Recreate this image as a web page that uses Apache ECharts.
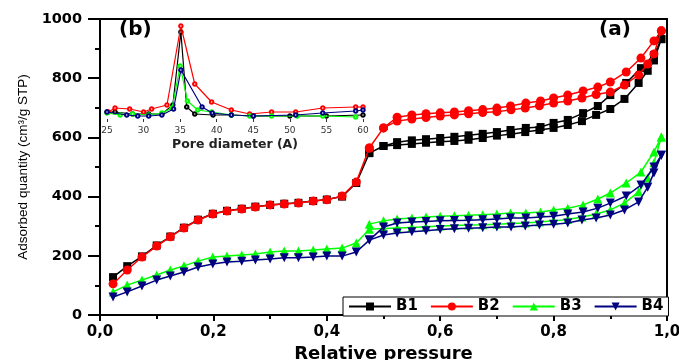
<!DOCTYPE html>
<html>
<head>
<meta charset="utf-8">
<script src="https://cdn.jsdelivr.net/npm/echarts@6/dist/echarts.min.js"></script>
<style>
  html, body { margin: 0; padding: 0; background: #fff; }
  #chart { width: 679px; height: 360px; }
</style>
</head>
<body>
<div id="chart"></div>
<script>
// relative pressure of the adsorption (lower) and desorption (upper) branches
const adsP = [0.023, 0.048, 0.074, 0.10, 0.124, 0.148, 0.173, 0.199, 0.224, 0.25,
  0.274, 0.30, 0.325, 0.35, 0.376, 0.40, 0.427, 0.452, 0.475, 0.50,
  0.524, 0.55, 0.575, 0.60, 0.625, 0.65, 0.675, 0.70, 0.725, 0.75,
  0.775, 0.80, 0.825, 0.85, 0.875, 0.90, 0.925, 0.95, 0.966, 0.977, 0.99];
const desP = [0.99, 0.977, 0.954, 0.928, 0.90, 0.878, 0.852, 0.825, 0.80, 0.777, 0.751,
  0.724, 0.70, 0.675, 0.65, 0.625, 0.60, 0.575, 0.55, 0.524, 0.50, 0.475];

const b1Ads = [128, 165, 198, 235, 265, 295, 322, 342, 352, 359, 366, 372, 376, 379, 385, 390, 400, 446, 547, 571,
  574, 578, 582, 585, 588, 592, 598, 606, 611, 618, 625, 632, 642, 655, 676, 696, 730, 784, 825, 860, 932];
const b1Des = [932, 878, 834, 784, 743, 706, 682, 659, 649, 635, 632, 625, 618, 612, 607, 602, 598, 594, 590, 584, 571, 547];

const b2Ads = [105, 152, 196, 233, 264, 294, 321, 341, 351, 358, 365, 372, 375, 378, 385, 389, 402, 449, 564, 632,
  655, 662, 667, 672, 676, 680, 684, 687, 693, 699, 707, 716, 723, 733, 745, 753, 777, 811, 848, 882, 960];
const b2Des = [960, 926, 868, 821, 787, 770, 757, 743, 733, 723, 716, 706, 699, 694, 690, 686, 683, 680, 676, 668, 632, 564];

const b3Ads = [78, 101, 118, 135, 152, 166, 182, 196, 199, 203, 206, 213, 216, 216, 220, 223, 226, 243, 290, 292,
  294, 296, 298, 301, 302, 304, 305, 307, 309, 311, 314, 318, 323, 331, 341, 355, 378, 416, 463, 514, 601];
const b3Des = [601, 551, 483, 446, 412, 392, 372, 361, 355, 348, 345, 345, 341, 339, 337, 335, 334, 331, 328, 324, 318, 307];

const b4Ads = [61, 78, 98, 118, 132, 145, 162, 172, 179, 182, 186, 189, 193, 193, 196, 199, 199, 213, 253, 270,
  277, 281, 285, 289, 291, 293, 295, 297, 297, 301, 304, 307, 311, 321, 328, 338, 355, 382, 432, 480, 540];
const b4Des = [540, 500, 439, 402, 378, 361, 348, 341, 334, 331, 328, 328, 324, 322, 320, 319, 318, 316, 314, 311, 297, 253];

// inset (b): pore size distribution, arbitrary units
const psdB1 = [[25, 10], [26.1, 10], [28.5, 8], [30.7, 8], [32.5, 8], [34, 17], [35.1, 90], [35.9, 15], [37, 8],
  [39.5, 7], [42, 7], [45, 6], [50, 6], [55, 6], [60, 7]];
const psdB2 = [[25.2, 10], [26.1, 14], [28.1, 13], [30, 10], [31.1, 13], [33.2, 17], [35.1, 96], [37, 38], [39.3, 20],
  [42, 12], [44.5, 8], [47.5, 10], [50.8, 10], [54.5, 14], [59, 15], [60, 15]];
const psdB3 = [[25, 9], [26.8, 7], [28.5, 8], [30.7, 7], [32.5, 9], [33.9, 14], [35, 56], [36, 21], [37.4, 12],
  [39.3, 10], [42, 7], [44.5, 6], [47.5, 6], [51, 6], [54.5, 6], [59, 5]];
const psdB4 = [[25, 10], [27.7, 7], [29.2, 6], [30.7, 6], [32.5, 7], [34.1, 13], [35.1, 52], [38, 15], [39.4, 9],
  [42, 7], [45, 6], [50.8, 7], [54.5, 9], [59, 11], [60, 12]];

const seriesNames = ['B1', 'B2', 'B3', 'B4'];
const colors = ['#000000', '#ff0000', '#00ff00', '#000080'];

function loop(ads, des) {
  const pts = adsP.map((p, i) => [p, ads[i]]);
  return pts.concat(desP.map((p, i) => [p, des[i]]));
}

const chart = echarts.init(document.getElementById('chart'));
const font = 'Liberation Sans, Arial, sans-serif';
const boldFont = 'DejaVu Sans, sans-serif';

const mainSeries = [
  { data: loop(b1Ads, b1Des), symbol: 'rect', symbolSize: 8 },
  { data: loop(b2Ads, b2Des), symbol: 'circle', symbolSize: 9 },
  { data: loop(b3Ads, b3Des), symbol: 'triangle', symbolSize: 9 },
  { data: loop(b4Ads, b4Des), symbol: 'triangle', symbolSize: 9, symbolRotate: 180 }
].map((s, i) => Object.assign({
  name: seriesNames[i],
  type: 'line',
  xAxisIndex: 0,
  yAxisIndex: 0,
  lineStyle: { width: 1.5, color: colors[i] },
  itemStyle: { color: colors[i] },
  z: 2 + i
}, s));

const insetSeries = [psdB1, psdB2, psdB3, psdB4].map((d, i) => ({
  name: seriesNames[i] + ' PSD',
  type: 'line',
  xAxisIndex: 1,
  yAxisIndex: 1,
  data: d,
  symbol: 'emptyCircle',
  symbolSize: 3.5,
  lineStyle: { width: 1.2, color: colors[i] },
  itemStyle: { color: colors[i], borderWidth: 1 },
  z: 10 + i
}));

chart.setOption({
  animation: false,
  backgroundColor: '#ffffff',
  grid: [
    { left: 100, right: 12, top: 19, bottom: 45, show: true, borderColor: '#000', borderWidth: 2, outerBoundsMode: 'none' },
    { left: 107, right: 316, top: 19, bottom: 238, outerBoundsMode: 'none' }
  ],
  legend: {
    data: seriesNames,
    left: 343,
    top: 297,
    itemWidth: 42,
    itemHeight: 10,
    itemGap: 12,
    padding: [2, 5, 2, 5],
    borderColor: '#000',
    borderWidth: 1,
    backgroundColor: '#fff',
    textStyle: { fontFamily: boldFont, fontWeight: 'bold', fontSize: 15, color: '#000' }
  },
  xAxis: [
    {
      gridIndex: 0,
      type: 'value',
      min: 0,
      max: 1,
      interval: 0.2,
      name: 'Relative pressure',
      nameLocation: 'middle',
      nameGap: 25,
      nameTextStyle: { fontFamily: boldFont, fontWeight: 'bold', fontSize: 18, color: '#000' },
      axisLine: { lineStyle: { color: '#000', width: 2 } },
      axisTick: { length: 6, lineStyle: { color: '#000', width: 2 } },
      minorTick: { show: true, splitNumber: 2, length: 4, lineStyle: { color: '#000', width: 2 } },
      splitLine: { show: false },
      axisLabel: {
        fontFamily: boldFont, fontWeight: 'bold', fontSize: 15, color: '#000', margin: 10,
        formatter: v => v.toFixed(1).replace('.', ',')
      }
    },
    {
      gridIndex: 1,
      type: 'value',
      min: 25,
      max: 60,
      interval: 5,
      name: 'Pore diameter (A)',
      nameLocation: 'middle',
      nameGap: 16,
      nameTextStyle: { fontFamily: boldFont, fontWeight: 'bold', fontSize: 12.5, color: '#222' },
      axisLine: { show: false },
      axisTick: { show: true, inside: true, length: 3, lineStyle: { color: '#333' } },
      splitLine: { show: false },
      axisLabel: { fontFamily: boldFont, fontSize: 9, color: '#333', margin: 4 }
    }
  ],
  yAxis: [
    {
      gridIndex: 0,
      type: 'value',
      min: 0,
      max: 1000,
      interval: 200,
      name: 'Adsorbed quantity (cm³/g STP)',
      nameLocation: 'middle',
      nameGap: 57,
      nameTextStyle: { fontFamily: font, fontSize: 13.5, color: '#000' },
      axisLine: { lineStyle: { color: '#000', width: 2 } },
      axisTick: { length: 12, lineStyle: { color: '#000', width: 2 } },
      minorTick: { show: true, splitNumber: 2, length: 5, lineStyle: { color: '#000', width: 2 } },
      splitLine: { show: false },
      axisLabel: {
        fontFamily: boldFont, fontWeight: 'bold', fontSize: 14.5, color: '#000', margin: 18,
        formatter: v => String(v)
      }
    },
    {
      gridIndex: 1,
      type: 'value',
      min: 0,
      max: 103,
      show: false,
      splitLine: { show: false }
    }
  ],
  graphic: [
    { type: 'text', left: 119, top: 20, style: { text: '(b)', font: 'bold 20px ' + boldFont, fill: '#000' } },
    { type: 'text', left: 599, top: 20, style: { text: '(a)', font: 'bold 20px ' + boldFont, fill: '#000' } }
  ],
  series: mainSeries.concat(insetSeries)
});
</script>
</body>
</html>
